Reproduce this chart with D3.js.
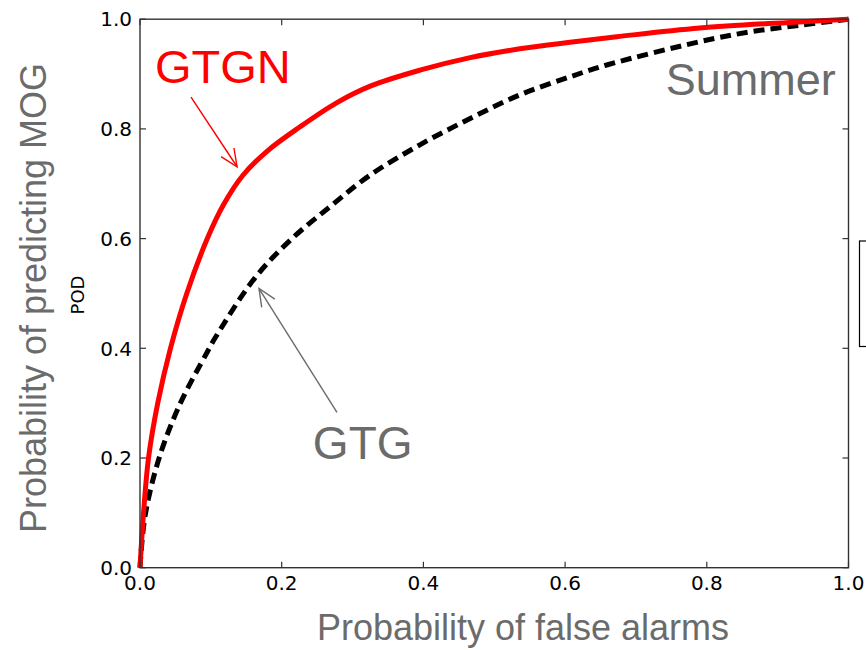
<!DOCTYPE html>
<html>
<head>
<meta charset="utf-8">
<script src="https://cdn.jsdelivr.net/npm/d3@7"></script>
<style>
  body { margin: 0; background: #fff; }
  svg { display: block; }
</style>
</head>
<body>
<div id="roc"></div>
<script>
// ROC curves
const gtgnFar = [0, 0.005, 0.012, 0.025, 0.043, 0.066, 0.095, 0.118, 0.145, 0.18, 0.225, 0.278, 0.325, 0.395, 0.466, 0.536, 0.607, 0.673, 0.79, 0.93, 1]
const gtgnPod = [0, 0.1, 0.2, 0.3, 0.4, 0.5, 0.6, 0.662, 0.715, 0.76, 0.803, 0.848, 0.878, 0.907, 0.93, 0.946, 0.958, 0.968, 0.984, 0.995, 1]

const gtgFar = [0, 0.007, 0.027, 0.057, 0.094, 0.107, 0.162, 0.212, 0.268, 0.325, 0.395, 0.466, 0.536, 0.607, 0.66, 0.79, 0.861, 0.932, 1]
const gtgPod = [0, 0.093, 0.2, 0.3, 0.391, 0.421, 0.528, 0.597, 0.658, 0.716, 0.771, 0.819, 0.862, 0.895, 0.917, 0.959, 0.977, 0.989, 1]

const tickVals = [0, 0.2, 0.4, 0.6, 0.8, 1.0]

// annotation anchors (data coords)
const gtgnArrow = [[0.072, 0.858], [0.137, 0.731]]
const gtgArrow = [[0.278, 0.283], [0.168, 0.509]]

const width = 866, height = 650

const svg = d3.select("#roc").append("svg")
    .attr("width", width)
    .attr("height", height)

const x = d3.scaleLinear().domain([0, 1]).range([140, 848.5])
const y = d3.scaleLinear().domain([0, 1]).range([567.7, 19.2])

const gray = "#6b6b6b"
const tickFont = "'DejaVu Sans', sans-serif"
const bigFont = "'Liberation Sans', Arial, sans-serif"

// curves
const line = d3.line().x(d => x(d[0])).y(d => y(d[1])).curve(d3.curveCatmullRom.alpha(0.5))

svg.append("path")
    .datum(gtgFar.map((f, i) => [f, gtgPod[i]]))
    .attr("d", line)
    .attr("fill", "none")
    .attr("stroke", "#000")
    .attr("stroke-width", 5)
    .attr("stroke-dasharray", "11,6")

svg.append("path")
    .datum(gtgnFar.map((f, i) => [f, gtgnPod[i]]))
    .attr("d", line)
    .attr("fill", "none")
    .attr("stroke", "#ff0000")
    .attr("stroke-width", 5)

// frame
svg.append("rect")
    .attr("x", x(0)).attr("y", y(1))
    .attr("width", x(1) - x(0)).attr("height", y(0) - y(1))
    .attr("fill", "none")
    .attr("stroke", "#333")
    .attr("stroke-width", 1.4)

// inward ticks on all four sides
const tk = 6
svg.append("g").selectAll("line").data(tickVals).join("line")
    .attr("x1", d => x(d)).attr("x2", d => x(d))
    .attr("y1", y(0)).attr("y2", y(0) - tk)
svg.append("g").selectAll("line").data(tickVals).join("line")
    .attr("x1", d => x(d)).attr("x2", d => x(d))
    .attr("y1", y(1)).attr("y2", y(1) + tk)
svg.append("g").selectAll("line").data(tickVals).join("line")
    .attr("y1", d => y(d)).attr("y2", d => y(d))
    .attr("x1", x(0)).attr("x2", x(0) + tk)
svg.append("g").selectAll("line").data(tickVals).join("line")
    .attr("y1", d => y(d)).attr("y2", d => y(d))
    .attr("x1", x(1)).attr("x2", x(1) - tk)
svg.selectAll("g line").attr("stroke", "#333").attr("stroke-width", 1.2)

// tick labels
svg.append("g").selectAll("text").data(tickVals).join("text")
    .attr("x", d => x(d)).attr("y", 590)
    .attr("text-anchor", "middle")
    .attr("font-family", tickFont).attr("font-size", 20)
    .text(d => d.toFixed(1))
svg.append("g").selectAll("text").data(tickVals).join("text")
    .attr("x", 132).attr("y", d => y(d))
    .attr("dy", "0.36em")
    .attr("text-anchor", "end")
    .attr("font-family", tickFont).attr("font-size", 20)
    .text(d => d.toFixed(1))

// axis titles
svg.append("text")
    .attr("x", 523).attr("y", 640)
    .attr("text-anchor", "middle")
    .attr("font-family", bigFont).attr("font-size", 36)
    .attr("fill", gray)
    .text("Probability of false alarms")

svg.append("text")
    .attr("transform", "translate(46,298) rotate(-90)")
    .attr("text-anchor", "middle")
    .attr("font-family", bigFont).attr("font-size", 36)
    .attr("fill", gray)
    .text("Probability of predicting MOG")

svg.append("text")
    .attr("transform", "translate(84,295) rotate(-90)")
    .attr("text-anchor", "middle")
    .attr("font-family", tickFont).attr("font-size", 18)
    .text("POD")

// partial legend box at right edge
svg.append("rect")
    .attr("x", 859.5).attr("y", 241)
    .attr("width", 40).attr("height", 105.5)
    .attr("fill", "none").attr("stroke", "#000").attr("stroke-width", 1.2)

// labels
svg.append("text")
    .attr("x", x(0.021)).attr("y", y(0.884))
    .attr("font-family", bigFont).attr("font-size", 47)
    .attr("fill", "#ff0000")
    .text("GTGN")

svg.append("text")
    .attr("x", x(0.982)).attr("y", y(0.862))
    .attr("text-anchor", "end")
    .attr("font-family", bigFont).attr("font-size", 45)
    .attr("fill", gray)
    .text("Summer")

svg.append("text")
    .attr("x", x(0.244)).attr("y", y(0.199))
    .attr("font-family", bigFont).attr("font-size", 46)
    .attr("fill", gray)
    .text("GTG")

// open arrows
function arrow(pts, color) {
    const [x0, y0] = [x(pts[0][0]), y(pts[0][1])]
    const [x1, y1] = [x(pts[1][0]), y(pts[1][1])]
    const ang = Math.atan2(y1 - y0, x1 - x0)
    const L = 19, spread = 0.42
    const g = svg.append("g").attr("stroke", color).attr("stroke-width", 1.4).attr("fill", "none")
    g.append("line").attr("x1", x0).attr("y1", y0).attr("x2", x1).attr("y2", y1)
    g.append("path").attr("d",
        "M" + (x1 - L * Math.cos(ang - spread)) + "," + (y1 - L * Math.sin(ang - spread)) +
        "L" + x1 + "," + y1 +
        "L" + (x1 - L * Math.cos(ang + spread)) + "," + (y1 - L * Math.sin(ang + spread)))
}
arrow(gtgnArrow, "#ff0000")
arrow(gtgArrow, gray)
</script>
</body>
</html>
